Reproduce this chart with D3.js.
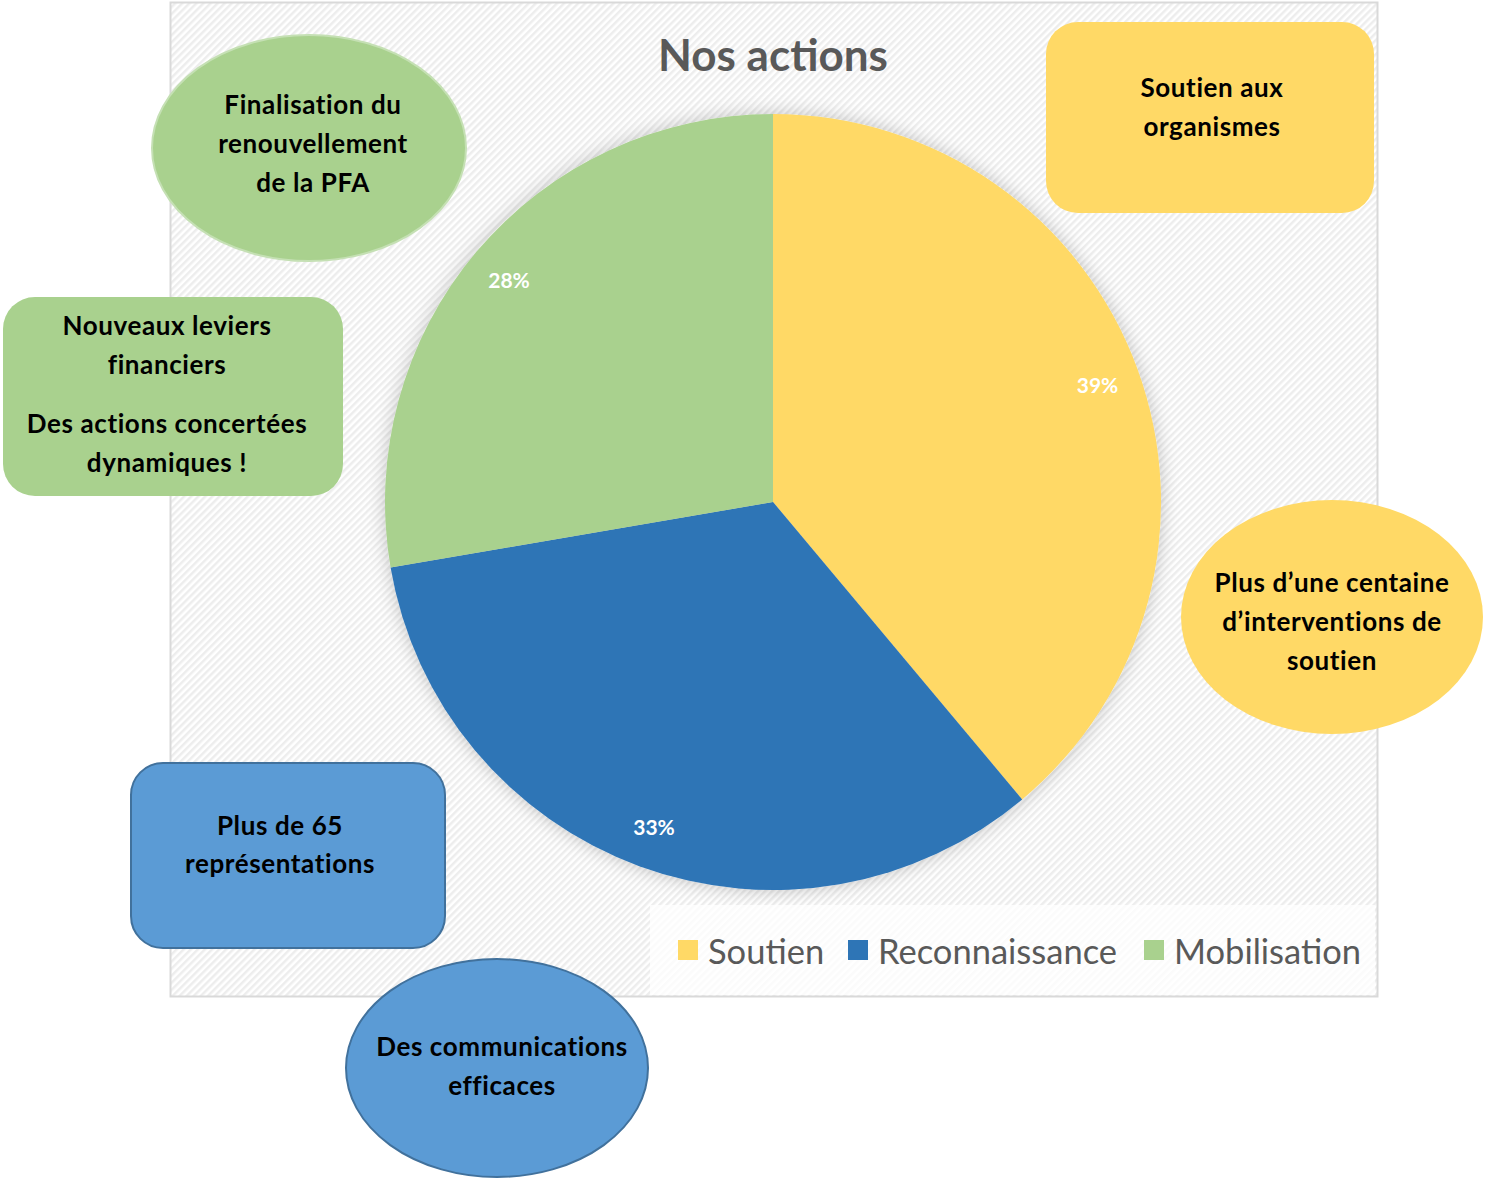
<!DOCTYPE html>
<html>
<head>
<meta charset="utf-8">
<script src="https://cdn.jsdelivr.net/npm/d3@7"></script>
<style>
  body { margin: 0; background: #fff; }
  svg text { font-family: Lato, "Open Sans", sans-serif; }
</style>
</head>
<body>
<div id="chart"></div>
<script>
// chart data (shares)
var categories = ["Soutien", "Reconnaissance", "Mobilisation"];
var values = [38.9, 33.4, 27.7];
var colors = ["#FFD966", "#2E75B6", "#A9D18E"];
var chartTitle = "Nos actions";

// callout texts
var calloutTexts = [
  ["Finalisation du", "renouvellement", "de la PFA"],
  ["Nouveaux leviers", "financiers", "", "Des actions concertées", "dynamiques !"],
  ["Soutien aux", "organismes"],
  ["Plus d\u2019une centaine", "d\u2019interventions de", "soutien"],
  ["Plus de 65", "représentations"],
  ["Des communications", "efficaces"]
];

var width = 1486, height = 1180;

var svg = d3.select("#chart")
  .append("svg")
  .attr("width", width)
  .attr("height", height);

var defs = svg.append("defs");

// diagonal hatch for the chart area
var hatch = defs.append("pattern")
  .attr("id", "hatch")
  .attr("patternUnits", "userSpaceOnUse")
  .attr("width", 5)
  .attr("height", 5)
  .attr("patternTransform", "rotate(45)");
hatch.append("rect").attr("width", 5).attr("height", 5).attr("fill", "#ffffff");
hatch.append("rect").attr("width", 2.5).attr("height", 5).attr("fill", "#ededed");

var shadow = defs.append("filter")
  .attr("id", "pieShadow")
  .attr("x", "-20%").attr("y", "-20%")
  .attr("width", "140%").attr("height", "140%");
shadow.append("feDropShadow")
  .attr("dx", 0).attr("dy", 0)
  .attr("stdDeviation", 9)
  .attr("flood-color", "#000")
  .attr("flood-opacity", 0.22);

// chart area
var plot = { x: 170, y: 2, w: 1207, h: 994 };
svg.append("rect")
  .attr("x", plot.x + 0.5).attr("y", plot.y + 0.5)
  .attr("width", plot.w).attr("height", plot.h)
  .attr("fill", "url(#hatch)")
  .attr("stroke", "#d9d9d9")
  .attr("stroke-width", 2);

// title
svg.append("text")
  .attr("x", 773)
  .attr("y", 54)
  .attr("text-anchor", "middle")
  .attr("dominant-baseline", "central")
  .attr("font-size", 44)
  .attr("font-weight", "bold")
  .attr("fill", "#595959")
  .text(chartTitle);

// pie
var cx = 773, cy = 502, radius = 388;
var pie = d3.pie().sort(null).value(function (d) { return d; });
var arc = d3.arc().innerRadius(0).outerRadius(radius);
var labelArc = d3.arc().innerRadius(radius * 0.89).outerRadius(radius * 0.89);
var total = d3.sum(values);

var g = svg.append("g").attr("transform", "translate(" + cx + "," + cy + ")");

g.append("g")
  .attr("filter", "url(#pieShadow)")
  .selectAll("path")
  .data(pie(values))
  .enter()
  .append("path")
  .attr("d", arc)
  .attr("fill", function (d, i) { return colors[i]; });

g.selectAll("text.pct")
  .data(pie(values))
  .enter()
  .append("text")
  .attr("class", "pct")
  .attr("transform", function (d) { return "translate(" + labelArc.centroid(d) + ")"; })
  .attr("text-anchor", "middle")
  .attr("dominant-baseline", "central")
  .attr("font-size", 21)
  .attr("font-weight", "bold")
  .attr("fill", "#ffffff")
  .text(function (d) { return Math.round(d.value / total * 100) + "%"; });

// legend
var legend = svg.append("g");
legend.append("rect")
  .attr("x", 650).attr("y", 905)
  .attr("width", 725).attr("height", 90)
  .attr("fill", "#ffffff")
  .attr("fill-opacity", 0.75);
var legendX = [678, 848, 1144];
categories.forEach(function (c, i) {
  legend.append("rect")
    .attr("x", legendX[i]).attr("y", 940)
    .attr("width", 20).attr("height", 20)
    .attr("fill", colors[i]);
  legend.append("text")
    .attr("x", legendX[i] + 30).attr("y", 950)
    .attr("dominant-baseline", "central")
    .attr("font-size", 34.5)
    .attr("fill", "#595959")
    .text(c);
});

// callout shapes
var callouts = [
  { type: "ellipse", cx: 309, cy: 148, rx: 157, ry: 113, fill: "#A9D18E", stroke: "#c5e0b4", tx: 313, ty: 104 },
  { type: "rect", x: 3, y: 297, w: 340, h: 199, r: 32, fill: "#A9D18E", stroke: "none", tx: 167, ty: 325 },
  { type: "rect", x: 1046, y: 22, w: 328, h: 191, r: 32, fill: "#FFD966", stroke: "none", tx: 1212, ty: 87 },
  { type: "ellipse", cx: 1332, cy: 617, rx: 151, ry: 117, fill: "#FFD966", stroke: "none", tx: 1332, ty: 582 },
  { type: "rect", x: 131, y: 763, w: 314, h: 185, r: 32, fill: "#5B9BD5", stroke: "#41719C", tx: 280, ty: 825 },
  { type: "ellipse", cx: 497, cy: 1068, rx: 151, ry: 109, fill: "#5B9BD5", stroke: "#41719C", tx: 502, ty: 1046 }
];

var lineStep = [39, 38.5, 39, 39, 38, 39];

callouts.forEach(function (c, i) {
  var shape;
  if (c.type === "ellipse") {
    shape = svg.append("ellipse")
      .attr("cx", c.cx).attr("cy", c.cy)
      .attr("rx", c.rx).attr("ry", c.ry);
  } else {
    shape = svg.append("rect")
      .attr("x", c.x).attr("y", c.y)
      .attr("width", c.w).attr("height", c.h)
      .attr("rx", c.r).attr("ry", c.r);
  }
  shape.attr("fill", c.fill)
    .attr("stroke", c.stroke)
    .attr("stroke-width", 2);

  var lines = calloutTexts[i];
  var yy = c.ty;
  lines.forEach(function (t, j) {
    if (t !== "") {
      svg.append("text")
        .attr("x", c.tx).attr("y", yy)
        .attr("text-anchor", "middle")
        .attr("dominant-baseline", "central")
        .attr("font-size", 26)
        .attr("letter-spacing", 0.6)
        .attr("font-weight", "bold")
        .attr("fill", "#000000")
        .text(t);
      yy += lineStep[i];
    } else {
      yy += 21;
    }
  });
});
</script>
</body>
</html>
